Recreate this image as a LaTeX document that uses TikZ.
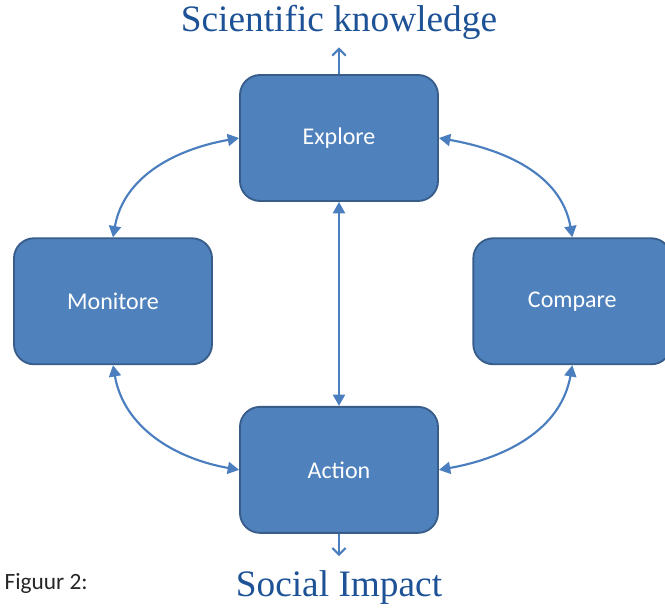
\documentclass[tikz,border=0pt]{standalone}
\usepackage{fontspec}
\setmainfont{Carlito}
\newfontfamily\headfont{Liberation Serif}
\usetikzlibrary{arrows.meta,positioning,calc}

\definecolor{boxfill}{RGB}{79,129,189}
\definecolor{boxline}{RGB}{56,93,138}
\definecolor{linkcol}{RGB}{74,126,190}
\definecolor{headcol}{RGB}{30,82,150}

\begin{document}
\begin{tikzpicture}[
  font=\fontsize{18}{21}\selectfont,
  box/.style={rounded corners=15pt, draw=boxline, line width=1.4pt, fill=boxfill,
              text=white, align=center, minimum width=148.5pt, minimum height=94.5pt},
  link/.style={{Triangle[length=8.5pt,width=9pt]}-{Triangle[length=8.5pt,width=9pt]},
               line width=1.6pt, draw=linkcol},
  lead/.style={-{Straight Barb[length=5pt,width=10pt,line width=1.6pt]}, line width=1.6pt, draw=linkcol},
  head/.style={font=\headfont\fontsize{28}{32}\selectfont, text=headcol, inner sep=0pt},
  node distance=153pt,
]

% ---------- page frame ----------
\clip (-254.25pt,-352.5pt) rectangle (244.5pt,103.5pt);

% ---------- Cycle ----------
\node[box] (explore) at (0,0) {Explore};
\node[box, below=of explore] (action) {Action};
\coordinate (mid) at ($(explore)!0.5!(action)+(0,2pt)$);
\node[box] (monitore) at ($(mid)+(-169.5pt,0)$) {Monitore};
\node[box] (compare)  at ($(mid)+(175pt,0)$)    {Compare};

\draw[link] (explore.west)  to[out=190, in=80]  (monitore.north);
\draw[link] (monitore.south) to[out=-80, in=170] (action.west);
\draw[link] (explore.east)  to[out=-10, in=100] (compare.north);
\draw[link] (compare.south) to[out=-100, in=10] (action.east);
\draw[link] (explore) -- (action);

% ---------- Outcomes ----------
\node[head] (science) at (0,87pt) {Scientific knowledge};
\node[head] (impact)  at (0,-337.5pt) {Social Impact};

\draw[lead, shorten >=6pt] (explore) -- (science);
\draw[lead, shorten >=11pt] (action) -- (impact);

% ---------- Caption ----------
\node[anchor=west, inner sep=0pt, font=\fontsize{17.5}{20}\selectfont, text=black!85]
  (caption) at (-251pt,-334pt) {Figuur 2:};

\end{tikzpicture}
\end{document}
